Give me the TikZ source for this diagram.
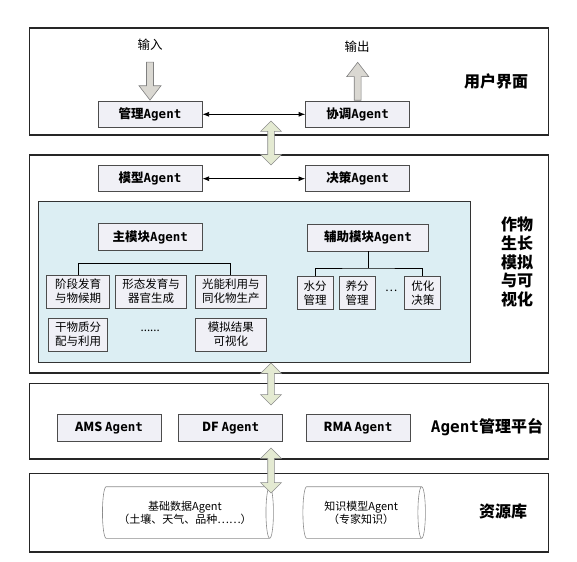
\documentclass[tikz,border=0pt]{standalone}
\usepackage{fontspec}
\setmainfont{Noto Sans CJK SC}
\newfontfamily\monofont{DejaVu Sans Mono}
\usepackage{xcolor}
\usetikzlibrary{arrows.meta,positioning,calc,shapes.geometric,shapes.arrows,backgrounds}
\newcommand{\ag}{{\monofont Agent}}
\definecolor{boxfill}{HTML}{F0F0F6}
\definecolor{panelfill}{HTML}{DCEEF3}
\definecolor{ioarrow}{HTML}{DAD8D2}
\definecolor{linkarrow}{HTML}{E4EAD2}

\begin{document}
\begin{tikzpicture}[x=1pt,y=-1pt,>=Latex,
  layer/.style={draw=black!85,line width=1.6pt,minimum width=519pt,inner sep=0pt},
  agt/.style={draw=black!70,line width=0.9pt,fill=boxfill,minimum width=104pt,minimum height=26.5pt,
              inner sep=1pt,font=\fontsize{12.5}{15}\selectfont\bfseries},
  sub/.style={draw=black!70,line width=0.9pt,fill=boxfill,inner sep=1pt,minimum height=33pt,
              align=center,font=\fontsize{11.5}{14}\selectfont},
  lbl/.style={font=\fontsize{16}{18.8}\selectfont\bfseries,align=center},
  io/.style={single arrow,draw=black!50,fill=ioarrow,line width=0.6pt,minimum height=38pt,
             minimum width=22pt,inner sep=3pt,single arrow tip angle=75},
  link/.style={double arrow,draw=black!45,fill=linkarrow,line width=0.6pt,minimum width=17pt,
               inner sep=3pt},
  store/.style={cylinder,draw=black!45,line width=0.6pt,aspect=0.25,minimum width=51.6pt,
                align=center,font=\fontsize{11}{13}\selectfont},
  tree/.style={line width=0.9pt}]

  \useasboundingbox (0,0) rectangle (577,561);

  % ---------- layers ----------
  \node[layer,minimum height=107.3pt] (ui)  at (289,81.4)  {};
  \node[layer,minimum height=217.7pt] (sim) at (289,263.9) {};
  \node[layer,minimum height=75.7pt]  (amp) at (289,421.2) {};
  \node[layer,minimum height=78.4pt]  (res) at (289,512.5) {};

  \node[lbl] (uilab)  at (496,81)    {用户界面};
  \node[lbl] (simlab) at (517,262)   {作物\\生长\\模拟\\与可\\视化};
  \node[lbl] (amplab) at (487,427.3) {\ag 管理平台};
  \node[lbl] (reslab) at (503,511.7) {资源库};

  % ---------- user interface ----------
  \node[agt] (mgr) at (150,114.3)   {管理\ag};
  \node[agt] (crd) at (357.7,114.3) {协调\ag};
  \node[io,rotate=-90,anchor=tip] (inarr)  at (mgr.north) {};
  \node[io,rotate=90,anchor=tail] (outarr) at (crd.north) {};
  \node[font=\fontsize{12.5}{15}\selectfont] (inlab)  at (150,45)    {输入};
  \node[font=\fontsize{12.5}{15}\selectfont] (outlab) at (357,46.7)  {输出};
  \draw[<->,line width=0.8pt] (mgr) -- (crd);

  % ---------- simulation ----------
  \node[agt] (mdl) at (150,178.7)   {模型\ag};
  \node[agt] (dcs) at (357.7,178.7) {决策\ag};
  \draw[<->,line width=0.8pt] (mdl) -- (dcs);

  \begin{scope}[on background layer]
    \node[draw=black!80,line width=1.1pt,fill=panelfill,minimum width=431.8pt,minimum height=161.3pt]
      (panel) at (254.5,281.7) {};
  \end{scope}

  \node[agt] (main) at (150.3,237) {主模块\ag};
  \node[agt,minimum width=121.5pt] (aux) at (368,237.7) {辅助模块\ag};

  \node[sub,minimum width=62.6pt] (s1) at (78,291.5)    {阶段发育\\与物候期};
  \node[sub,minimum width=70.7pt] (s2) at (151.2,291.5) {形态发育与\\器官生成};
  \node[sub,minimum width=70.7pt] (s3) at (230.8,291.5) {光能利用与\\同化物生产};
  \node[sub,minimum width=59pt]   (s4) at (78,334.5)    {干物质分\\配与利用};
  \node[sub,minimum width=70.7pt] (s5) at (230.8,334.5) {模拟结果\\可视化};
  \node[font=\fontsize{11.5}{14}\selectfont] (sdots) at (150.2,331) {......};
  \draw[tree] (s1.north) -- ++(0,-11) -| (s3.north);

  \node[sub,minimum width=36pt,minimum height=32.6pt] (w1) at (315,293)   {水分\\管理};
  \node[sub,minimum width=36pt,minimum height=32.6pt] (w2) at (357.2,293) {养分\\管理};
  \node[sub,minimum width=36pt,minimum height=32.6pt] (w3) at (422.9,293) {优化\\决策};
  \node[font=\fontsize{11.5}{14}\selectfont] (wdots) at (391.2,291) {…};
  \coordinate (auxj) at ($(aux.south)+(0,16.6)$);
  \draw[tree] (aux.south) -- (auxj);
  \draw[tree] (w1.north) |- (auxj) -| (w3.north);

  % ---------- platform ----------
  \node[agt] (ams) at (109,428)   {AMS \ag};
  \node[agt] (df)  at (230.6,428) {DF \ag};
  \node[agt] (rma) at (358,428)   {RMA \ag};

  % ---------- resources ----------
  \node[store,minimum height=171pt]   (base) at (185,512.5)   {基础数据Agent\\（土壤、天气、品种……）};
  \node[store,minimum height=122.5pt] (know) at (361.2,512.5) {知识模型Agent\\（专家知识）};

  % ---------- links between layers ----------
  \node[link,rotate=90,minimum height=44pt] (l12) at (271,143)   {};
  \node[link,rotate=90,minimum height=42pt] (l23) at (271,384)   {};
  \node[link,rotate=90,minimum height=45pt] (l34) at (271,470.5) {};
\end{tikzpicture}
\end{document}
